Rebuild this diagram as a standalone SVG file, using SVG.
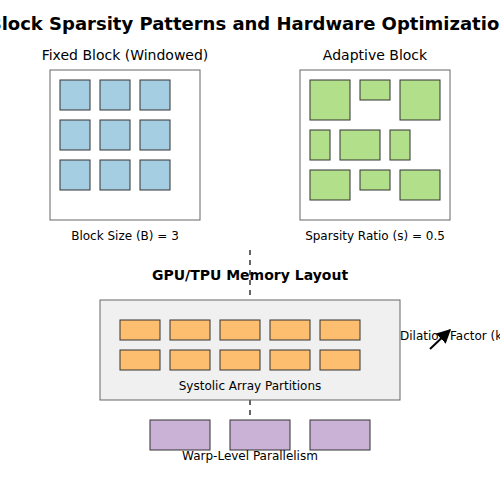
<svg xmlns="http://www.w3.org/2000/svg" width="500" height="500" viewBox="0 0 500 500">
<defs>
<style>
text{font-family:"DejaVu Sans",sans-serif;fill:#000}
.frame{fill:#fff;stroke:#666;stroke-width:1}
.b{fill:#a6cee3;stroke:#333;stroke-width:1}
.g{fill:#b2df8a;stroke:#333;stroke-width:1}
.o{fill:#fdbf6f;stroke:#333;stroke-width:1}
.p{fill:#cab2d6;stroke:#333;stroke-width:1}
.dash{stroke:#666;stroke-width:2;stroke-dasharray:5,5;fill:none}
</style>
<marker id="ah" viewBox="0 0 10 10" refX="9" refY="5" markerWidth="14" markerHeight="14" orient="auto" markerUnits="userSpaceOnUse">
<path d="M0,0 L10,5 L0,10 z" fill="#000"/>
</marker>
</defs>
<rect width="500" height="500" fill="#fff"/>
<text x="250" y="30" text-anchor="middle" font-size="18" font-weight="bold">Block Sparsity Patterns and Hardware Optimization</text>
<g id="connectors">
<line class="dash" x1="250" y1="250" x2="250" y2="300"/>
<line class="dash" x1="250" y1="400" x2="250" y2="420"/>
<line x1="430" y1="349" x2="450" y2="330" stroke="#000" stroke-width="2" marker-end="url(#ah)"/>
</g>
<g id="fixed">
<text x="125" y="60" text-anchor="middle" font-size="14">Fixed Block (Windowed)</text>
<rect class="frame" x="50" y="70" width="150" height="150"/>
<rect class="b" x="60" y="80" width="30" height="30"/><rect class="b" x="100" y="80" width="30" height="30"/><rect class="b" x="140" y="80" width="30" height="30"/>
<rect class="b" x="60" y="120" width="30" height="30"/><rect class="b" x="100" y="120" width="30" height="30"/><rect class="b" x="140" y="120" width="30" height="30"/>
<rect class="b" x="60" y="160" width="30" height="30"/><rect class="b" x="100" y="160" width="30" height="30"/><rect class="b" x="140" y="160" width="30" height="30"/>
<text x="125" y="240" text-anchor="middle" font-size="12">Block Size (B) = 3</text>
</g>
<g id="adaptive">
<text x="375" y="60" text-anchor="middle" font-size="14">Adaptive Block</text>
<rect class="frame" x="300" y="70" width="150" height="150"/>
<rect class="g" x="310" y="80" width="40" height="40"/><rect class="g" x="360" y="80" width="30" height="20"/><rect class="g" x="400" y="80" width="40" height="40"/>
<rect class="g" x="310" y="130" width="20" height="30"/><rect class="g" x="340" y="130" width="40" height="30"/><rect class="g" x="390" y="130" width="20" height="30"/>
<rect class="g" x="310" y="170" width="40" height="30"/><rect class="g" x="360" y="170" width="30" height="20"/><rect class="g" x="400" y="170" width="40" height="30"/>
<text x="375" y="240" text-anchor="middle" font-size="12">Sparsity Ratio (s) = 0.5</text>
</g>
<g id="memory">
<text x="250" y="280" text-anchor="middle" font-size="14" font-weight="bold">GPU/TPU Memory Layout</text>
<rect x="100" y="300" width="300" height="100" fill="#f0f0f0" stroke="#666"/>
<rect class="o" x="120" y="320" width="40" height="20"/><rect class="o" x="170" y="320" width="40" height="20"/><rect class="o" x="220" y="320" width="40" height="20"/><rect class="o" x="270" y="320" width="40" height="20"/><rect class="o" x="320" y="320" width="40" height="20"/>
<rect class="o" x="120" y="350" width="40" height="20"/><rect class="o" x="170" y="350" width="40" height="20"/><rect class="o" x="220" y="350" width="40" height="20"/><rect class="o" x="270" y="350" width="40" height="20"/><rect class="o" x="320" y="350" width="40" height="20"/>
<text x="250" y="390" text-anchor="middle" font-size="12">Systolic Array Partitions</text>
</g>
<g id="warp">
<rect class="p" x="150" y="420" width="60" height="30"/><rect class="p" x="230" y="420" width="60" height="30"/><rect class="p" x="310" y="420" width="60" height="30"/>
<text x="250" y="460" text-anchor="middle" font-size="12">Warp-Level Parallelism</text>
</g>
<g id="dilation">
<text x="400" y="340" font-size="12">Dilation Factor (k)</text>
</g>
</svg>
